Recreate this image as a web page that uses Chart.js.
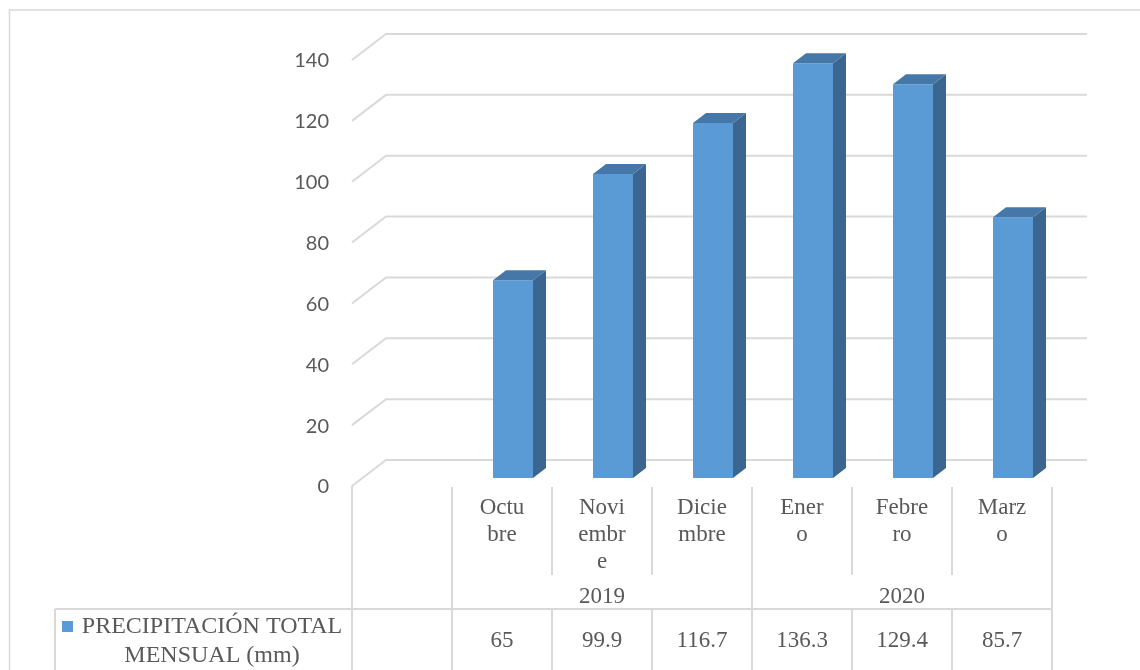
<!DOCTYPE html>
<html><head><meta charset="utf-8">
<script src="https://cdn.jsdelivr.net/npm/chart.js@4"></script>
<style>html,body{margin:0;padding:0;background:#fff}#wrap{width:1140px;height:670px;position:relative}</style>
</head><body><div id="wrap"><canvas id="c" width="1140" height="670"></canvas></div>
<script>
// ---- data ----
const categories = ['', 'Octubre', 'Noviembre', 'Diciembre', 'Enero', 'Febrero', 'Marzo'];
const tickLabels = [[''], ['Octu', 'bre'], ['Novi', 'embr', 'e'], ['Dicie', 'mbre'], ['Ener', 'o'], ['Febre', 'ro'], ['Marz', 'o']];
const precipitation = [null, 65, 99.9, 116.7, 136.3, 129.4, 85.7];
const valueText = ['', '65', '99.9', '116.7', '136.3', '129.4', '85.7'];
const yearLabels = ['2019', '2020'];
const yearStart = [1, 4];
const yearEnd = [3, 6];
const seriesName = ['PRECIPITACIÓN TOTAL', 'MENSUAL (mm)'];
const yMin = 0, yMax = 140, yStep = 20;

// ---- style ----
const BLUE = '#5B9BD5', TOP = '#4677A9', SIDE = '#3A6690';
const GRID = '#D9D9D9', TEXT = '#595959';
const SERIF = '"Liberation Serif", "Times New Roman", serif';
const FRONT_DX = -11, FRONT_DY = 8, BACK_DX = 23, BACK_DY = -18, BAR_DX = 13, BAR_DY = -10;

const deco = {
  id: 'deco',
  beforeDatasetsDraw(chart) {
    const ctx = chart.ctx, ys = chart.scales.y, xs = chart.scales.x, ca = chart.chartArea;
    ctx.save();
    // outer frame
    ctx.strokeStyle = GRID; ctx.lineWidth = 1.5;
    ctx.beginPath(); ctx.moveTo(9.5, 670); ctx.lineTo(9.5, 10); ctx.lineTo(1140, 10); ctx.stroke();
    // back wall gridlines with side wall diagonals
    ctx.lineWidth = 2;
    ys.ticks.forEach(t => {
      const y = ys.getPixelForValue(t.value);
      ctx.beginPath();
      ctx.moveTo(ca.left + FRONT_DX, y + FRONT_DY);
      ctx.lineTo(ca.left + BACK_DX, y + BACK_DY);
      ctx.lineTo(ca.right + BACK_DX + 1, y + BACK_DY);
      ctx.stroke();
    });
    // data table
    const n = categories.length;
    const half = (xs.getPixelForValue(1) - xs.getPixelForValue(0)) / 2;
    const bx = i => (i < n ? xs.getPixelForValue(i) - half : xs.getPixelForValue(n - 1) + half) + FRONT_DX;
    const y0 = ys.getPixelForValue(0) + FRONT_DY;
    const rowMonthEnd = 575, rowYearEnd = 609, bottom = 672;
    const groupEdges = new Set([1]);
    yearEnd.forEach(e => groupEdges.add(e + 1));
    ctx.beginPath();
    for (let i = 0; i <= n; i++) {
      const x = bx(i);
      if (i === 0) { ctx.moveTo(x, y0); ctx.lineTo(x, bottom); continue; }
      if (groupEdges.has(i)) { ctx.moveTo(x, y0 + 1); ctx.lineTo(x, bottom); }
      else {
        ctx.moveTo(x, y0 + 1); ctx.lineTo(x, rowMonthEnd);
        ctx.moveTo(x, rowYearEnd); ctx.lineTo(x, bottom);
      }
    }
    ctx.moveTo(55, rowYearEnd); ctx.lineTo(55, bottom);
    ctx.moveTo(55, rowYearEnd); ctx.lineTo(bx(n), rowYearEnd);
    ctx.stroke();
    // year labels
    ctx.fillStyle = TEXT; ctx.font = '23px ' + SERIF;
    ctx.textAlign = 'center'; ctx.textBaseline = 'middle';
    yearLabels.forEach((lab, k) => {
      const cx = (bx(yearStart[k]) + bx(yearEnd[k] + 1)) / 2;
      ctx.fillText(lab, cx, 597);
    });
    // values row
    valueText.forEach((v, i) => {
      if (v === '') return;
      ctx.fillText(v, xs.getPixelForValue(i) + FRONT_DX, 641);
    });
    // legend key + series name
    ctx.fillStyle = BLUE; ctx.fillRect(62, 621, 11, 11);
    ctx.fillStyle = TEXT; ctx.font = '24px ' + SERIF;
    ctx.fillText(seriesName[0], 212, 627);
    ctx.fillText(seriesName[1], 212, 656);
    ctx.restore();
  },
  afterDatasetsDraw(chart) {
    const ctx = chart.ctx;
    ctx.save();
    chart.getDatasetMeta(0).data.forEach((bar, i) => {
      if (precipitation[i] == null) return;
      const p = bar.getProps(['x', 'y', 'base', 'width'], true);
      const x1 = p.x - p.width / 2, x2 = p.x + p.width / 2, top = p.y, bot = p.base;
      ctx.fillStyle = SIDE;
      ctx.beginPath();
      ctx.moveTo(x2, top); ctx.lineTo(x2 + BAR_DX, top + BAR_DY);
      ctx.lineTo(x2 + BAR_DX, bot + BAR_DY); ctx.lineTo(x2, bot); ctx.closePath(); ctx.fill();
      ctx.fillStyle = TOP;
      ctx.beginPath();
      ctx.moveTo(x1, top); ctx.lineTo(x1 + BAR_DX, top + BAR_DY);
      ctx.lineTo(x2 + BAR_DX, top + BAR_DY); ctx.lineTo(x2, top); ctx.closePath(); ctx.fill();
    });
    ctx.restore();
  }
};

new Chart(document.getElementById('c'), {
  type: 'bar',
  data: {
    labels: categories,
    datasets: [{
      label: seriesName.join(' '),
      data: precipitation,
      backgroundColor: BLUE,
      borderWidth: 0,
      barPercentage: 0.4,
      categoryPercentage: 1.0
    }]
  },
  options: {
    responsive: false,
    animation: false,
    devicePixelRatio: 1,
    layout: { padding: { top: 52, right: 77, left: 0, bottom: 0 } },
    plugins: { legend: { display: false }, tooltip: { enabled: false } },
    scales: {
      x: {
        grid: { display: false, drawTicks: false },
        border: { display: false },
        ticks: {
          autoSkip: false, maxRotation: 0, minRotation: 0,
          padding: 16, labelOffset: FRONT_DX, color: TEXT,
          font: { family: SERIF, size: 23, lineHeight: 27 / 23 },
          callback: (v, i) => tickLabels[i]
        },
        afterFit: s => { s.height = 192; }
      },
      y: {
        min: yMin, max: yMax,
        grid: { display: false, drawTicks: false },
        border: { display: false },
        ticks: {
          stepSize: yStep, padding: 34, labelOffset: FRONT_DY + 1, color: TEXT,
          font: { family: 'Lato, "Open Sans", sans-serif', size: 20 }
        },
        afterFit: s => { s.width = 363; }
      }
    }
  },
  plugins: [deco]
});
</script></body></html>
